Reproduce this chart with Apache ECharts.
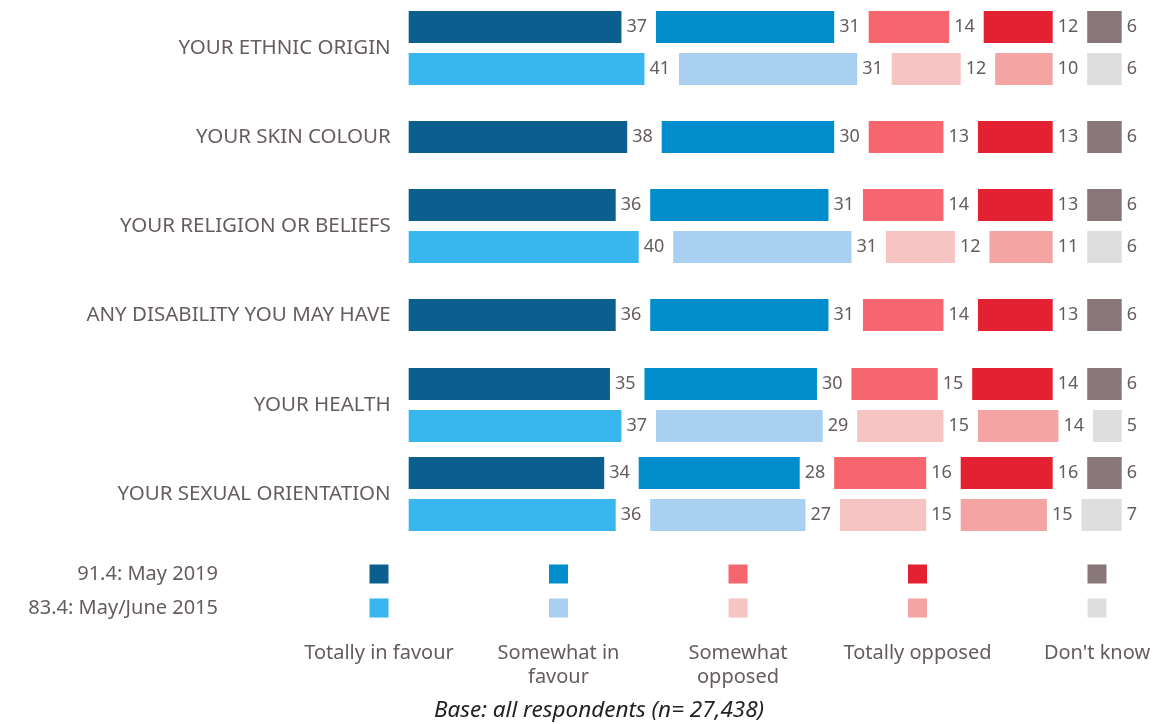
<!DOCTYPE html>
<html>
<head>
<meta charset="utf-8">
<script src="https://cdn.jsdelivr.net/npm/echarts@6/dist/echarts.min.js"></script>
<style>
  html, body { margin: 0; padding: 0; background: #fff; }
  #chart { width: 1162px; height: 724px; }
</style>
</head>
<body>
<div id="chart"></div>
<script>
const topics = ['YOUR ETHNIC ORIGIN', 'YOUR SKIN COLOUR', 'YOUR RELIGION OR BELIEFS',
  'ANY DISABILITY YOU MAY HAVE', 'YOUR HEALTH', 'YOUR SEXUAL ORIENTATION'];
const answers = ['Totally in favour', 'Somewhat in\nfavour', 'Somewhat\nopposed', 'Totally opposed', "Don't know"];
const waves = ['91.4: May 2019', '83.4: May/June 2015'];

// one value per topic, null where the wave was not asked
const totallyFavour2019   = [37, 38, 36, 36, 35, 34];
const somewhatFavour2019  = [31, 30, 31, 31, 30, 28];
const somewhatOpposed2019 = [14, 13, 14, 14, 15, 16];
const totallyOpposed2019  = [12, 13, 13, 13, 14, 16];
const dontKnow2019        = [6, 6, 6, 6, 6, 6];

const totallyFavour2015   = [41, null, 40, null, 37, 36];
const somewhatFavour2015  = [31, null, 31, null, 29, 27];
const somewhatOpposed2015 = [12, null, 12, null, 15, 15];
const totallyOpposed2015  = [10, null, 11, null, 14, 15];
const dontKnow2015        = [6, null, 6, null, 5, 7];

const colors2019 = ['#0b5f8f', '#008fcc', '#f5666f', '#e42033', '#877779'];
const colors2015 = ['#38b7ee', '#a9d0f0', '#f6c4c2', '#f4a4a2', '#dedede'];

const values2019 = [totallyFavour2019, somewhatFavour2019, somewhatOpposed2019, totallyOpposed2019, dontKnow2019];
const values2015 = [totallyFavour2015, somewhatFavour2015, somewhatOpposed2015, totallyOpposed2015, dontKnow2015];

const GAP = 6;               // blank space (in %) left between segments for the value labels
const textColor = '#655c5e';
const font = '"Noto Sans", "Open Sans", sans-serif';

// layout: top of each topic block, slot height per bar row
const gridTops = [6, 116, 184, 294, 363, 452];
const slot = 42;

const grids = [], xAxes = [], yAxes = [], series = [];

topics.forEach((topic, t) => {
  const hasOld = totallyFavour2015[t] !== null;
  const rows = hasOld ? [waves[0], waves[1]] : [waves[0]];
  grids.push({
    left: 408.7, width: 718.75, top: gridTops[t], height: slot * rows.length,
    outerBoundsMode: 'none'
  });
  xAxes.push({ gridIndex: t, type: 'value', min: 0, max: 125, show: false });
  yAxes.push({
    gridIndex: t, type: 'category', data: rows, inverse: true,
    axisLine: { show: false }, axisTick: { show: false }, axisLabel: { show: false },
    name: topic, nameLocation: 'middle', nameRotate: 0, nameGap: 18,
    nameTextStyle: { color: textColor, fontSize: 20.5, fontFamily: font, align: 'right' }
  });

  answers.forEach((a, i) => {
    const data = [{ value: values2019[i][t], itemStyle: { color: colors2019[i] } }];
    if (hasOld) data.push({ value: values2015[i][t], itemStyle: { color: colors2015[i] } });
    series.push({
      type: 'bar', name: a, stack: 's' + t, xAxisIndex: t, yAxisIndex: t,
      barWidth: 32, data: data,
      label: { show: true, position: 'right', distance: 5, color: textColor, fontSize: 18, fontFamily: font },
      silent: true
    });
    if (i < answers.length - 1) {
      series.push({
        type: 'bar', name: 'gap', stack: 's' + t, xAxisIndex: t, yAxisIndex: t,
        barWidth: 32, data: rows.map(() => GAP),
        itemStyle: { color: 'transparent' }, silent: true
      });
    }
  });
});

// legend block drawn as a small scatter grid
const legendIndex = topics.length;
grids.push({ left: 379, right: 65, top: 574, height: 34, outerBoundsMode: 'none' });
xAxes.push({
  gridIndex: legendIndex, type: 'category', data: answers, boundaryGap: false,
  axisLine: { show: false }, axisTick: { show: false }, splitLine: { show: false },
  axisLabel: { color: textColor, fontSize: 20, fontFamily: font, margin: 33, lineHeight: 24, interval: 0 }
});
yAxes.push({
  gridIndex: legendIndex, type: 'category', data: waves, inverse: true, boundaryGap: false,
  axisLine: { show: false }, axisTick: { show: false }, splitLine: { show: false },
  axisLabel: { color: textColor, fontSize: 20, fontFamily: font, margin: 161 }
});
const legendData = [];
answers.forEach((a, i) => {
  legendData.push({ value: [i, 0], itemStyle: { color: colors2019[i] } });
  legendData.push({ value: [i, 1], itemStyle: { color: colors2015[i] } });
});
series.push({
  type: 'scatter', xAxisIndex: legendIndex, yAxisIndex: legendIndex,
  symbol: 'rect', symbolSize: 19, itemStyle: { opacity: 1 }, data: legendData, silent: true
});

const chart = echarts.init(document.getElementById('chart'), null, { renderer: 'canvas' });
chart.setOption({
  animation: false,
  backgroundColor: '#ffffff',
  grid: grids,
  xAxis: xAxes,
  yAxis: yAxes,
  series: series,
  graphic: [{
    type: 'text', left: 434, top: 699,
    style: {
      text: 'Base: all respondents (n= 27,438)',
      fill: '#222222', font: 'italic 22.5px "Noto Sans", "Open Sans", sans-serif'
    }
  }]
});
</script>
</body>
</html>
